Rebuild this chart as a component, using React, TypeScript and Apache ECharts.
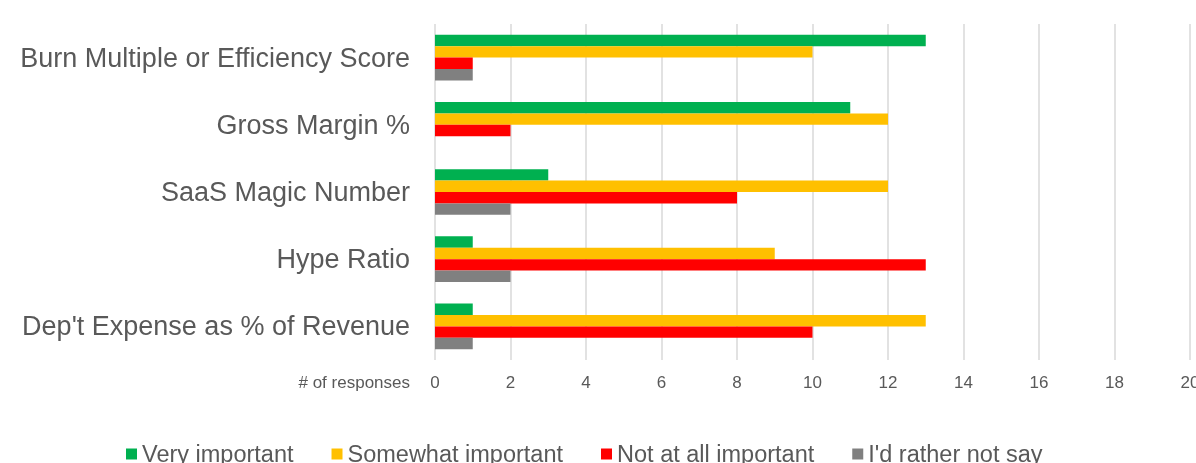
import React, { useEffect, useRef } from "react";
import * as echarts from "echarts";

const categories = [
  "Burn Multiple or Efficiency Score",
  "Gross Margin %",
  "SaaS Magic Number",
  "Hype Ratio",
  "Dep't Expense as % of Revenue",
];
const seriesNames = ["Very important", "Somewhat important", "Not at all important", "I'd rather not say"];
const veryImportant = [13, 11, 3, 1, 1];
const somewhatImportant = [10, 12, 12, 9, 13];
const notAtAllImportant = [1, 2, 8, 13, 10];
const ratherNotSay = [1, 0, 2, 2, 1];
const colors = ["#00B050", "#FFC000", "#FF0000", "#808080"];
const xMin = 0;
const xMax = 20;
const xInterval = 2;
const xAxisName = "# of responses";

export default function App() {
  const ref = useRef<HTMLDivElement>(null);
  useEffect(() => {
    if (!ref.current) return;
    const chart = echarts.init(ref.current, undefined, { renderer: "svg" });
    const font = "'Liberation Sans', Arial, sans-serif";
    const values = [veryImportant, somewhatImportant, notAtAllImportant, ratherNotSay];
    chart.setOption({
      animation: false,
      textStyle: { fontFamily: font },
      grid: {
        left: 435,
        right: 6,
        top: 24,
        bottom: 103,
        containLabel: false,
        outerBoundsMode: "none",
      },
      legend: {
        data: seriesNames,
        left: 121,
        top: 437,
        itemWidth: 11,
        itemHeight: 11,
        itemGap: 38,
        icon: "rect",
        textStyle: { fontSize: 23.5, color: "#595959", fontFamily: font },
      },
      xAxis: {
        type: "value",
        min: xMin,
        max: xMax,
        interval: xInterval,
        name: "{n|" + xAxisName + "}",
        nameLocation: "start",
        nameGap: 25,
        nameTextStyle: {
          align: "right",
          verticalAlign: "middle",
          rich: {
            n: {
              fontSize: 17,
              color: "#595959",
              fontFamily: font,
              padding: [45, 0, 0, 0],
            },
          },
        },
        axisLine: { show: false },
        axisTick: { show: false },
        axisLabel: { fontSize: 17, color: "#595959", margin: 14, fontFamily: font },
        splitLine: { show: true, lineStyle: { color: "#d9d9d9", width: 1.5 } },
      },
      yAxis: {
        type: "category",
        data: categories,
        inverse: true,
        axisLine: { show: false },
        axisTick: { show: false },
        axisLabel: { fontSize: 27, color: "#595959", margin: 25, fontFamily: font },
        splitLine: { show: false },
      },
      series: seriesNames.map((name, i) => ({
        name,
        type: "bar",
        data: values[i],
        barGap: "0%",
        barCategoryGap: "32%",
        itemStyle: { color: colors[i] },
      })),
    });
    return () => chart.dispose();
  }, []);
  return (
    <div
      ref={ref}
      style={{ position: "fixed", left: 0, top: 0, width: 1196, height: 463 }}
    />
  );
}
